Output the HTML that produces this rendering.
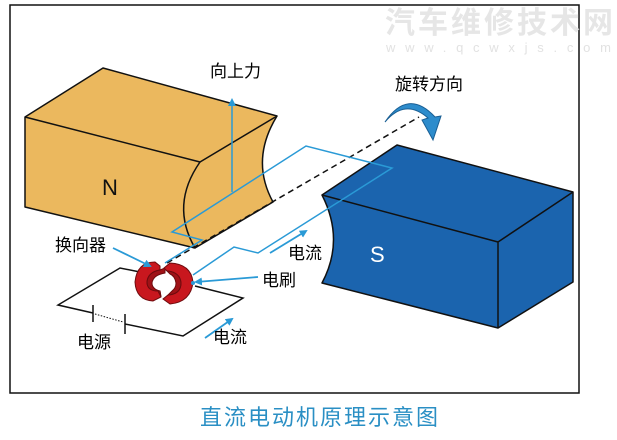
<!DOCTYPE html>
<html><head><meta charset="utf-8"><style>
html,body{margin:0;padding:0;background:#fff;}
svg{display:block;}
text{font-family:"Liberation Sans","Noto Sans CJK SC",sans-serif;}
</style></head><body>
<svg width="617" height="440" viewBox="0 0 617 440" xmlns="http://www.w3.org/2000/svg">
<defs>
<marker id="ah" markerWidth="8" markerHeight="8" refX="6" refY="4" orient="auto" markerUnits="userSpaceOnUse"><path d="M0,0 L8,4 L0,8 z" fill="#2a9ad6"/></marker>
</defs>
<rect x="10" y="5" width="569" height="388" fill="#fff" stroke="#111" stroke-width="1.5"/>
<!-- watermark -->
<text x="385" y="33" font-size="30" font-weight="bold" fill="#e6e6e6" textLength="228">汽车维修技术网</text>
<text x="386" y="52" font-size="13" fill="#e2e2e2" textLength="225">www.qcwxjs.com</text>

<!-- N block -->
<g stroke="#111" stroke-width="1.5" stroke-linejoin="round" fill="#ebb85e">
<path d="M25,117 L103,68 L277,116 Q250,160 273,202 L195,248 L25,207 Z"/>
<path d="M25,117 L200,162 L277,116"/>
<path d="M200,162 Q170,205 195,248" fill="none"/>
</g>
<text x="102" y="195" font-size="22" fill="#111">N</text>

<!-- dashed axis -->
<line x1="167" y1="263" x2="419" y2="117" stroke="#111" stroke-width="1.5" stroke-dasharray="6,4"/>

<!-- S block -->
<g stroke="#111" stroke-width="1.5" stroke-linejoin="round" fill="#1b64ae">
<path d="M322,195 L397,145 L573,192 L573,282 L498,328 L322,283 Q345,240 322,195 Z"/>
<path d="M322,195 L498,242 L573,192 M498,242 L498,328" fill="none"/>
</g>
<text x="370" y="262" font-size="22" fill="#fff">S</text>

<!-- rotation arrow -->
<path d="M385,122 Q405,98 428,118 L422,120 L433,140 L441,116 L435,117 Q408,88 385,122 Z" fill="#2d8ccc" stroke="#1a5f94" stroke-width="1"/>

<!-- coil -->
<g fill="none" stroke="#2a9ad6" stroke-width="1.5">
<polyline points="165,263 202,240 172,232 306,146 392,168 258,253 234,247 193,275"/>
<line x1="232" y1="192" x2="232" y2="100" marker-end="url(#ah)"/>
</g>

<!-- circuit -->
<g fill="none" stroke="#111" stroke-width="1.5">
<polyline points="140,272 120,268 58,305 93,313"/>
<polyline points="125,324 183,336 243,298 195,286"/>
<line x1="93" y1="305" x2="93" y2="322"/>
<line x1="125" y1="314" x2="125" y2="334"/>
<line x1="95" y1="314" x2="123" y2="322" stroke-width="1" stroke-dasharray="1.5,1.5"/>
</g>

<!-- commutator -->
<g stroke="#6e0b0e" stroke-width="1" fill="#c8171e">
<path d="M160,266 L155,262 Q137,262 135,282 Q136,300 153,301 L161,297 L160,291 Q147,291 147,282 Q148,272 160,270 Z"/>
<path d="M160,270 L165,268 L165,273 Q153,275 152,283 Q152,289 160,291 L161,297 L158,291 Q147,291 147,282 Q148,272 160,270 Z" fill="#a01217"/>
<path d="M164,268 L170,263 Q191,264 193,282 Q191,302 170,304 L163,299 L168,295 Q181,294 181,283 Q180,272 167,271 Z"/>
<path d="M167,271 Q180,272 181,283 Q181,294 168,295 L172,291 Q176,288 176,283 Q175,276 170,274 Z" fill="#a01217"/>
</g>
<circle cx="193" cy="283" r="2" fill="#2a9ad6"/>

<!-- label arrows -->
<g stroke="#2a9ad6" stroke-width="1.8" fill="none" marker-end="url(#ah)">
<line x1="113" y1="248" x2="150" y2="266"/>
<line x1="258" y1="277" x2="196" y2="282"/>
<line x1="270" y1="253" x2="306" y2="231"/>
<line x1="205" y1="338" x2="232" y2="319"/>
</g>

<!-- labels -->
<g font-size="17" fill="#000">
<text x="210" y="77">向上力</text>
<text x="395" y="90">旋转方向</text>
<text x="55" y="251">换向器</text>
<text x="288" y="259">电流</text>
<text x="262" y="286">电刷</text>
<text x="77" y="348">电源</text>
<text x="213" y="343">电流</text>
</g>
<text x="200" y="425" font-size="22" fill="#2a8fc4" textLength="238">直流电动机原理示意图</text>
</svg>
</body></html>
